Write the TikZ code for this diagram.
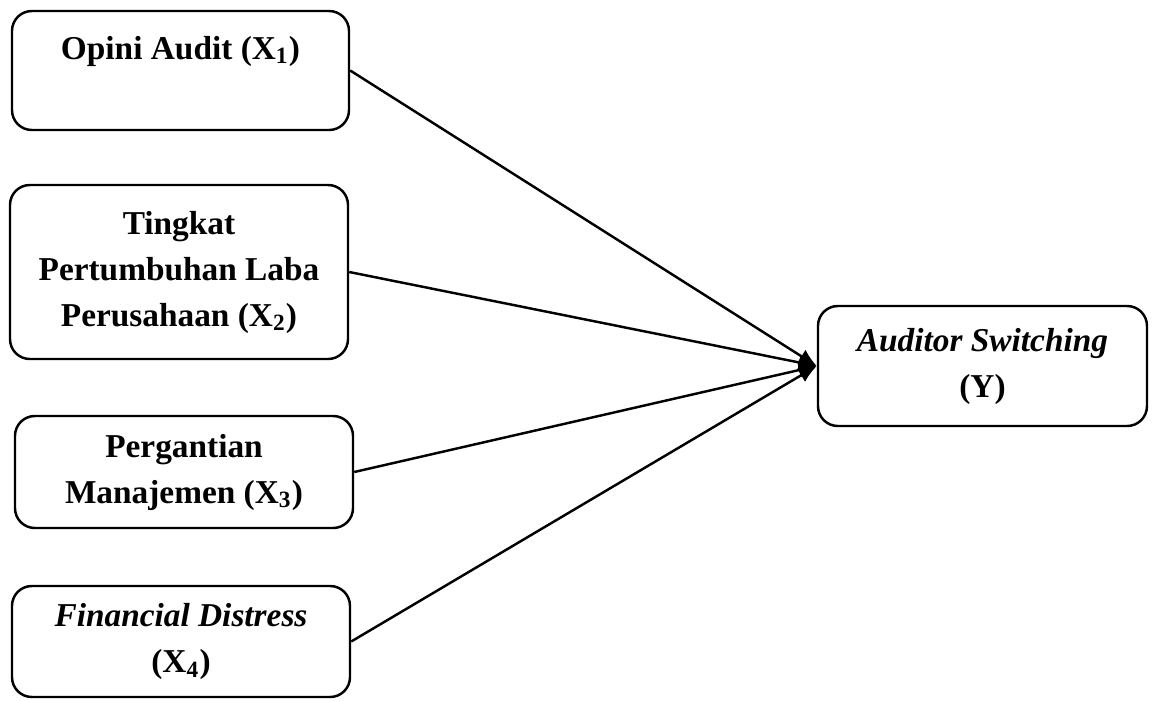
\documentclass[tikz,border=0pt]{standalone}
\usepackage{fontspec}
\setmainfont{Liberation Serif}
\usetikzlibrary{arrows.meta}
\begin{document}
\begin{tikzpicture}[x=0.0136cm,y=-0.0136cm,
  box/.style={draw, line width=0.95pt, rounded corners=0.27cm, align=center,
    font=\fontsize{12.9}{17.8}\selectfont\bfseries, inner sep=0pt},
  link/.style={line width=0.95pt, -{Latex[length=7pt,width=6pt]}}]
\useasboundingbox (0,0) rectangle (1157,700);
\node[box, minimum width={337*0.0136cm}, minimum height={119*0.0136cm}] (x1) at (180.5,70.5)
  {Opini Audit (X\textsubscript{1})\\ ~};
\node[box, minimum width={338*0.0136cm}, minimum height={174*0.0136cm}] (x2) at (179,272)
  {Tingkat\\Pertumbuhan Laba\\Perusahaan (X\textsubscript{2})};
\node[box, minimum width={338*0.0136cm}, minimum height={112*0.0136cm}] (x3) at (184,472)
  {Pergantian\\Manajemen (X\textsubscript{3})};
\node[box, minimum width={338*0.0136cm}, minimum height={111*0.0136cm}] (x4) at (181,641.5)
  {\textit{Financial Distress}\\(X\textsubscript{4})};
\node[box, minimum width={329*0.0136cm}, minimum height={120*0.0136cm}] (y) at (982.5,366)
  {\textit{Auditor Switching}\\(Y)};
\draw[link] (x1.east) -- (y.west);
\draw[link] (x2.east) -- (y.west);
\draw[link] (x3.east) -- (y.west);
\draw[link] (x4.east) -- (y.west);
\end{tikzpicture}
\end{document}
